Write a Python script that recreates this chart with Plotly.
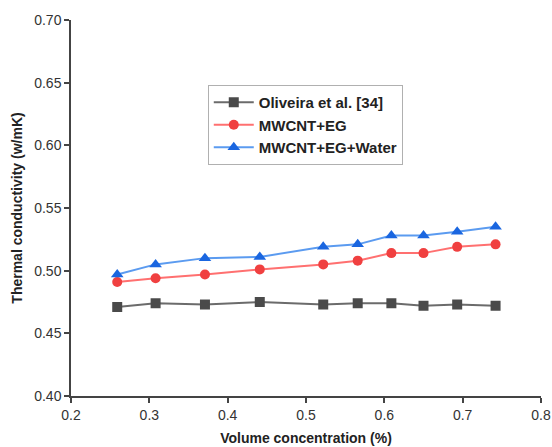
import plotly.graph_objects as go

x_vals = [0.259, 0.308, 0.371, 0.441, 0.522, 0.566, 0.609, 0.650, 0.693, 0.742]
oliveira = [0.471, 0.474, 0.473, 0.475, 0.473, 0.474, 0.474, 0.472, 0.473, 0.472]
mwcnt_eg = [0.491, 0.494, 0.497, 0.501, 0.505, 0.508, 0.514, 0.514, 0.519, 0.521]
mwcnt_eg_water = [0.497, 0.505, 0.510, 0.511, 0.519, 0.521, 0.528, 0.528, 0.531, 0.535]

names = ["Oliveira et al. [34]", "MWCNT+EG", "MWCNT+EG+Water"]
line_colors = ["#6b6b6b", "#ff7070", "#5b9bf0"]
marker_colors = ["#4a4a4a", "#f04040", "#1a66e0"]
symbols = ["square", "circle", "triangle-up"]

fig = go.Figure()
for name, ys, lc, mc, sym in zip(names, [oliveira, mwcnt_eg, mwcnt_eg_water], line_colors, marker_colors, symbols):
    fig.add_trace(go.Scatter(
        x=x_vals, y=ys, name=name, mode="lines+markers",
        line=dict(color=lc, width=2),
        marker=dict(symbol=sym, color=mc, size=10 if sym != "triangle-up" else 11),
    ))

font = "Liberation Sans, Arial, sans-serif"
fig.update_layout(
    width=552, height=447,
    margin=dict(l=71, r=11, t=20, b=51),
    paper_bgcolor="white", plot_bgcolor="white",
    font=dict(family=font, color="#333333"),
    showlegend=True,
    legend=dict(
        x=0.291, y=0.827, xanchor="left", yanchor="top",
        bordercolor="#b0b0b0", borderwidth=1, bgcolor="white",
        font=dict(family=font, size=15, color="#222222", weight="bold"),
        tracegroupgap=0, itemwidth=40,
    ),
    xaxis=dict(
        range=[0.2, 0.8], tickvals=[0.2, 0.3, 0.4, 0.5, 0.6, 0.7, 0.8],
        ticktext=["0.2", "0.3", "0.4", "0.5", "0.6", "0.7", "0.8"],
        showline=True, linecolor="#444444", linewidth=1.5,
        ticks="outside", ticklen=5, tickcolor="#444444", tickwidth=1.5,
        showgrid=False, zeroline=False, automargin=False,
        tickfont=dict(size=14, color="#333333"),
        title=dict(text="Volume concentration (%)", standoff=12,
                   font=dict(size=14, color="#222222", weight="bold")),
    ),
    yaxis=dict(
        range=[0.40, 0.70], tickvals=[0.40, 0.45, 0.50, 0.55, 0.60, 0.65, 0.70],
        ticktext=["0.40", "0.45", "0.50", "0.55", "0.60", "0.65", "0.70"],
        showline=True, linecolor="#444444", linewidth=1.5,
        ticks="outside", ticklen=5, tickcolor="#444444", tickwidth=1.5,
        showgrid=False, zeroline=False, automargin=False,
        tickfont=dict(size=14, color="#333333"),
        title=dict(text="Thermal conductivity (w/mK)", standoff=8,
                   font=dict(size=14, color="#222222", weight="bold")),
    ),
)

fig.write_html("out.html")
